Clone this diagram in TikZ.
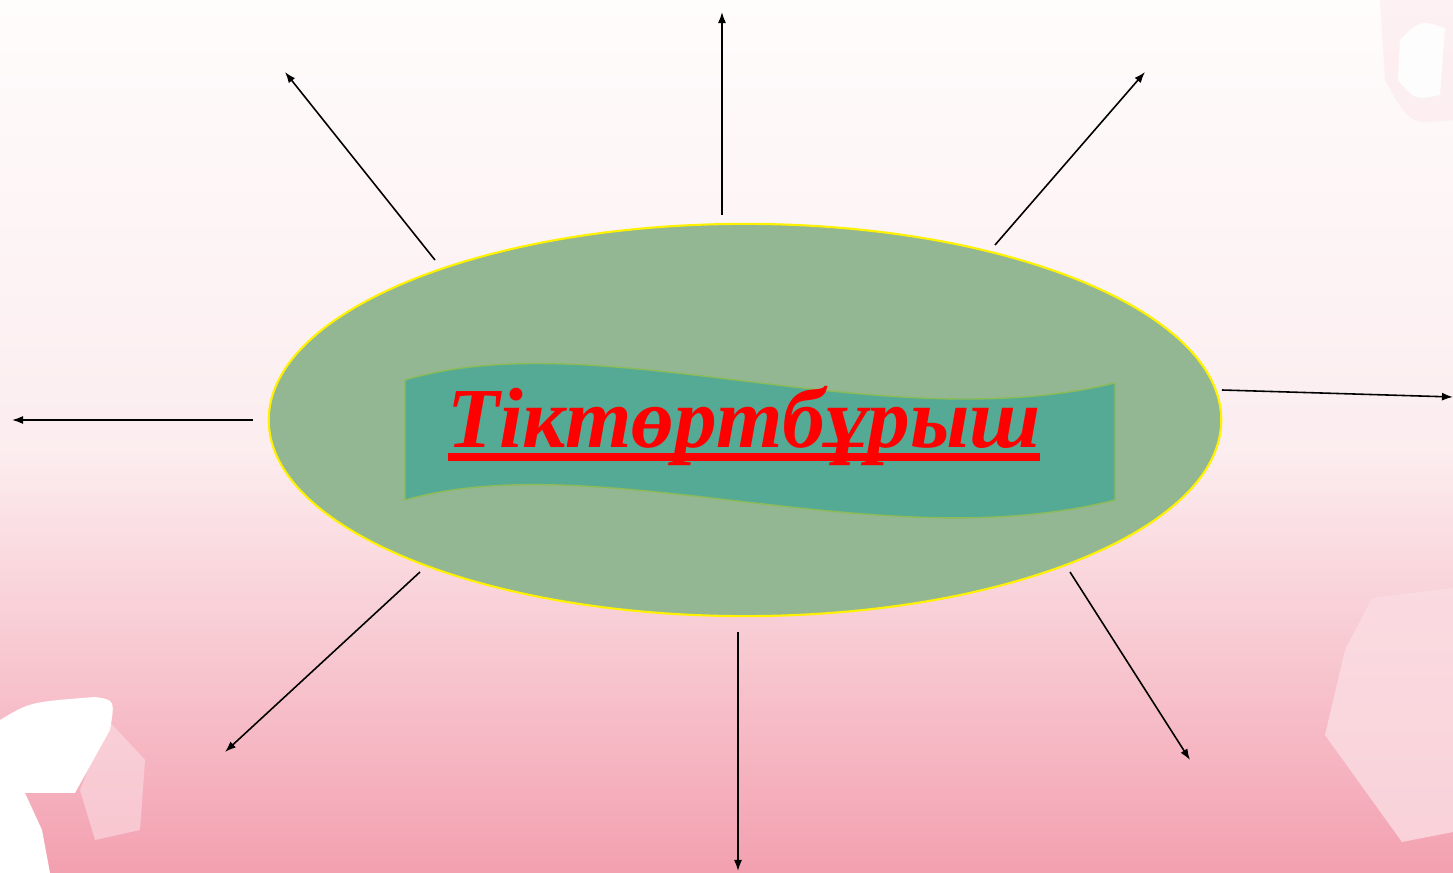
\documentclass[tikz,border=0pt]{standalone}
\usepackage{fontspec}
\setmainfont{Liberation Serif}
\usetikzlibrary{arrows.meta,shapes.geometric}
\definecolor{bgtop}{HTML}{FFFCFC}
\definecolor{bgmid}{HTML}{FCEDEF}
\definecolor{bgbot}{HTML}{F3A0B0}
\definecolor{ellfill}{HTML}{93B793}
\definecolor{bannerfill}{HTML}{55AA95}
\definecolor{banneredge}{HTML}{8CBB5A}
\definecolor{hexlight}{HTML}{FBDDE3}
\tikzset{
  arr/.style={draw=black, line width=0.45pt, -{Latex[length=1.1mm,width=0.8mm]}},
}
\begin{document}
\begin{tikzpicture}[x=0.01cm,y=-0.01cm]
\useasboundingbox (0,0) rectangle (1453,873);
% background
\shade[top color=bgtop, bottom color=bgmid] (0,0) rectangle (1453,451);
\shade[top color=bgmid, bottom color=bgbot] (0,450) rectangle (1453,873);
% decorative shapes
\fill[hexlight, opacity=0.8] (1372,598) -- (1453,588) -- (1453,832) -- (1402,842) -- (1325,735) -- (1345,650) -- cycle;
\fill[hexlight, opacity=0.6] (108,720) -- (145,760) -- (140,830) -- (95,840) -- (80,790) -- cycle;
\fill[white] (0,720) .. controls (30,702) .. (95,697) .. controls (115,700) .. (110,730) -- (75,793) -- (25,793) -- (42,830) -- (50,873) -- (0,873) -- cycle;
\fill[hexlight, opacity=0.35] (1380,0) -- (1453,0) -- (1453,120) .. controls (1410,125) .. (1385,80) -- cycle;
\fill[white, opacity=0.9] (1400,40) .. controls (1420,20) .. (1445,28) -- (1440,95) .. controls (1415,100) .. (1398,80) -- cycle;
% ellipse
\node[ellipse, draw=yellow, line width=0.6pt, fill=ellfill, minimum width=9.52cm, minimum height=3.92cm, inner sep=0pt] (E) at (745,420) {};
% banner
\draw[draw=banneredge, line width=0.4pt, fill=bannerfill] (405,380) .. controls (600,322) and (880,440) .. (1115,383) -- (1115,500) .. controls (880,560) and (600,445) .. (405,500) -- cycle;
% title
\node[anchor=base, inner sep=0pt, text=red, font=\fontsize{24.3}{30}\selectfont\bfseries\itshape] (T) at (744,448) {Тіктөртбұрыш};
\draw[red, line width=2pt] (448,457) -- (1040,457);
% arrows
\coordinate (s1) at (722,215); \coordinate (e1) at (722,12);
\coordinate (s2) at (435,260); \coordinate (e2) at (285,72);
\coordinate (s3) at (995,245); \coordinate (e3) at (1145,72);
\coordinate (s4) at (1222,390); \coordinate (e4) at (1453,397);
\coordinate (s5) at (253,420); \coordinate (e5) at (12,420);
\coordinate (s6) at (420,572); \coordinate (e6) at (225,752);
\coordinate (s7) at (738,632); \coordinate (e7) at (738,871);
\coordinate (s8) at (1070,572); \coordinate (e8) at (1190,760);
\foreach \i in {1,...,8} { \draw[arr] (s\i) -- (e\i); }
\end{tikzpicture}
\end{document}
